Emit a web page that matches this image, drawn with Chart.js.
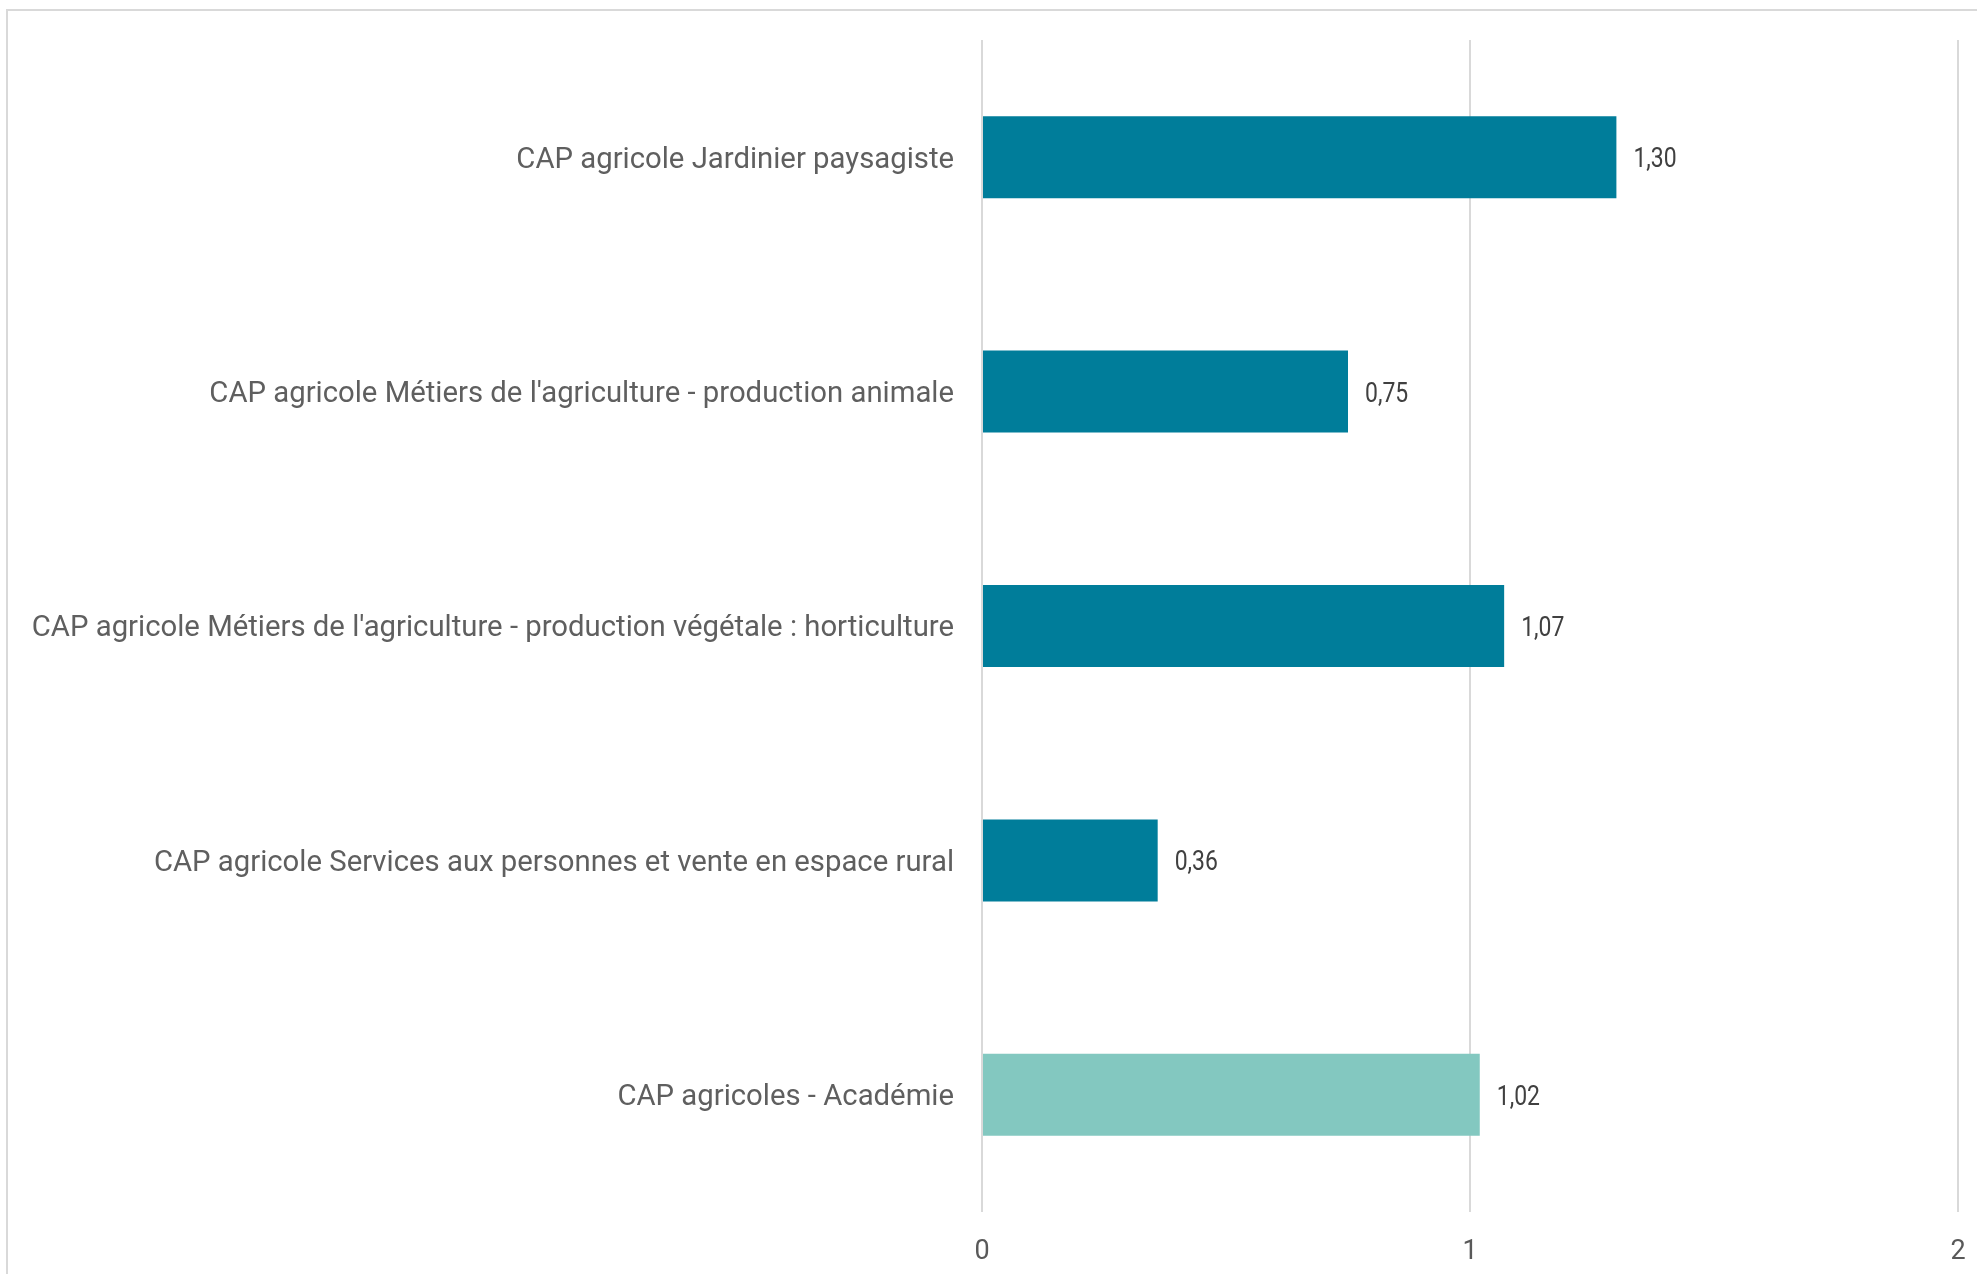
<!DOCTYPE html>
<html>
<head>
<meta charset="utf-8">
<script src="https://cdn.jsdelivr.net/npm/chart.js@4.4.1/dist/chart.umd.min.js"></script>
<style>
  html, body { margin: 0; padding: 0; background: #fff; overflow: hidden; }
  #frame {
    position: absolute; left: 6px; top: 9px;
    width: 2100px; height: 1400px;
    border: 2px solid #d9d9d9; box-sizing: border-box;
  }
  #wrap { position: absolute; left: 0; top: 0; width: 1977px; height: 1274px; }
</style>
</head>
<body>
<div id="frame"></div>
<div id="wrap"><canvas id="chart"></canvas></div>
<script>
// Données du graphique
const categories = [
  "CAP agricole Jardinier paysagiste",
  "CAP agricole Métiers de l'agriculture - production animale",
  "CAP agricole Métiers de l'agriculture - production végétale : horticulture",
  "CAP agricole Services aux personnes et vente en espace rural",
  "CAP agricoles - Académie"
];
const valeurs = [1.30, 0.75, 1.07, 0.36, 1.02];
const couleurs = ["#007d9a", "#007d9a", "#007d9a", "#007d9a", "#83c8c0"];
const xTicks = [0, 1, 2];

// Étiquettes de valeur au bout des barres (format français)
const valueLabels = {
  id: "valueLabels",
  afterDatasetsDraw(chart) {
    const ctx = chart.ctx;
    const meta = chart.getDatasetMeta(0);
    ctx.save();
    ctx.fillStyle = "#404040";
    ctx.font = "28px Roboto";
    ctx.textBaseline = "middle";
    meta.data.forEach((bar, i) => {
      const txt = valeurs[i].toFixed(2).replace(".", ",");
      ctx.save();
      ctx.translate(bar.x + 17, bar.y + 3);
      ctx.scale(0.82, 1);
      ctx.fillText(txt, 0, 0);
      ctx.restore();
    });
    ctx.restore();
  }
};

const ctx = document.getElementById("chart").getContext("2d");
new Chart(ctx, {
  type: "bar",
  data: {
    labels: categories,
    datasets: [{
      data: valeurs,
      backgroundColor: couleurs,
      borderWidth: 0,
      categoryPercentage: 1,
      barPercentage: 0.35
    }]
  },
  options: {
    indexAxis: "y",
    responsive: true,
    maintainAspectRatio: false,
    animation: false,
    layout: { padding: { top: 40, right: 19, left: 0, bottom: 0 } },
    plugins: { legend: { display: false }, tooltip: { enabled: false } },
    scales: {
      x: {
        min: xTicks[0],
        max: xTicks[xTicks.length - 1],
        afterBuildTicks: (scale) => { scale.ticks = xTicks.map((v) => ({ value: v })); },
        grid: { color: "#d9d9d9", lineWidth: 2, drawTicks: false },
        border: { display: false },
        ticks: {
          color: "#595959",
          font: { family: "Roboto", size: 27 },
          padding: 24,
          callback: (v) => String(v)
        },
        afterFit: (scale) => {
          scale.height = 62;
          scale.paddingLeft = 0;
          scale.paddingRight = 0;
        }
      },
      y: {
        grid: { display: false },
        border: { display: false },
        ticks: {
          color: "#5f5f5f",
          font: { family: "Roboto", size: 29.3 },
          padding: 20,
          labelOffset: 3
        },
        afterFit: (scale) => {
          scale.width = 982;
          scale.paddingTop = 0;
          scale.paddingBottom = 0;
        }
      }
    }
  },
  plugins: [valueLabels]
});
</script>
</body>
</html>
